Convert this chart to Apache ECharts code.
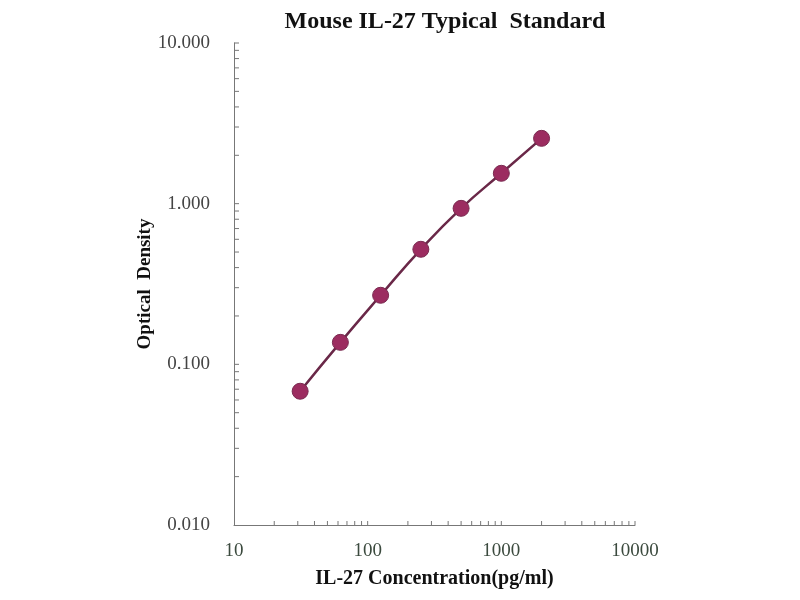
<!DOCTYPE html>
<html>
<head>
<meta charset="utf-8">
<script src="https://cdn.jsdelivr.net/npm/echarts@6/dist/echarts.min.js"></script>
<style>
html,body{margin:0;padding:0;background:#fff;}
#chart{width:800px;height:600px;}
</style>
</head>
<body>
<div id="chart"></div>
<script>
// Data
var concentrations = [31.25, 62.5, 125, 250, 500, 1000, 2000];
var opticalDensity = [0.068, 0.137, 0.269, 0.52, 0.935, 1.545, 2.55];
// Tick positions on the log axes
var xTickValues = [20,30,40,50,60,70,80,90,100,200,300,400,500,600,700,800,900,1000,2000,3000,4000,5000,6000,7000,8000,9000,10000];
var yTickValues = [0.02,0.03,0.04,0.05,0.06,0.07,0.08,0.09,0.1,0.2,0.3,0.4,0.5,0.6,0.7,0.8,0.9,1,2,3,4,5,6,7,8,9,10];
var yLabelMap = {"0.01":"0.010","0.1":"0.100","1":"1.000","10":"10.000"};
var xLabelMap = {"10":"10","100":"100","1000":"1000","10000":"10000"};

var serif = '"Liberation Serif", "DejaVu Serif", serif';
var chart = echarts.init(document.getElementById('chart'));

var pairs = concentrations.map(function(c, i){ return [c, opticalDensity[i]]; });

chart.setOption({
  animation: false,
  backgroundColor: '#ffffff',
  title: {
    text: 'Mouse IL-27 Typical  Standard',
    left: 440, top: 5, textAlign: 'center',
    textStyle: { fontFamily: serif, fontWeight: 'bold', fontSize: 24, color: '#111' }
  },
  grid: { left: 234, right: 165, top: 43, bottom: 75 },
  xAxis: {
    type: 'log', logBase: 10, min: 10, max: 10000,
    name: 'IL-27 Concentration(pg/ml)', nameLocation: 'middle', nameGap: 44,
    nameTextStyle: { fontFamily: serif, fontWeight: 'bold', fontSize: 20, color: '#111' },
    axisLine: { lineStyle: { color: '#777', width: 1 } },
    axisTick: { show: false },
    splitLine: { show: false },
    axisLabel: {
      fontFamily: serif, fontSize: 19, color: '#3b4a3e', margin: 17,
      formatter: function(v){ var k = String(Math.round(v)); return xLabelMap[k] || k; }
    }
  },
  yAxis: {
    type: 'log', logBase: 10, min: 0.01, max: 10,
    name: 'Optical  Density', nameLocation: 'middle', nameGap: 79, nameRotate: 90,
    nameMoveOverlap: false,
    nameTextStyle: { fontFamily: serif, fontWeight: 'bold', fontSize: 19, color: '#111' },
    axisLine: { show: true, lineStyle: { color: '#777', width: 1 } },
    axisTick: { show: false },
    splitLine: { show: false },
    axisLabel: {
      fontFamily: serif, fontSize: 19, color: '#444', margin: 24,
      formatter: function(v){ var k = String(+v.toPrecision(3)); return yLabelMap[k] || v; }
    }
  },
  series: [
    {
      type: 'line', data: pairs, smooth: true, showSymbol: true,
      symbol: 'circle', symbolSize: 16,
      lineStyle: { color: '#6a2848', width: 2.5 },
      itemStyle: { color: '#9c2c60', borderColor: '#7a2a50', borderWidth: 1 },
      z: 5
    },
    {
      type: 'custom', silent: true, clip: false,
      data: xTickValues.map(function(v){ return [v, 0.01]; }),
      renderItem: function(params, api){
        var p = api.coord([api.value(0), api.value(1)]);
        return { type: 'line', shape: { x1: p[0], y1: p[1], x2: p[0], y2: p[1] - 4 },
                 style: { stroke: '#777', lineWidth: 1 } };
      }
    },
    {
      type: 'custom', silent: true, clip: false,
      data: yTickValues.map(function(v){ return [10, v]; }),
      renderItem: function(params, api){
        var p = api.coord([api.value(0), api.value(1)]);
        return { type: 'line', shape: { x1: p[0], y1: p[1], x2: p[0] + 5, y2: p[1] },
                 style: { stroke: '#777', lineWidth: 1 } };
      }
    }
  ]
});
</script>
</body>
</html>
